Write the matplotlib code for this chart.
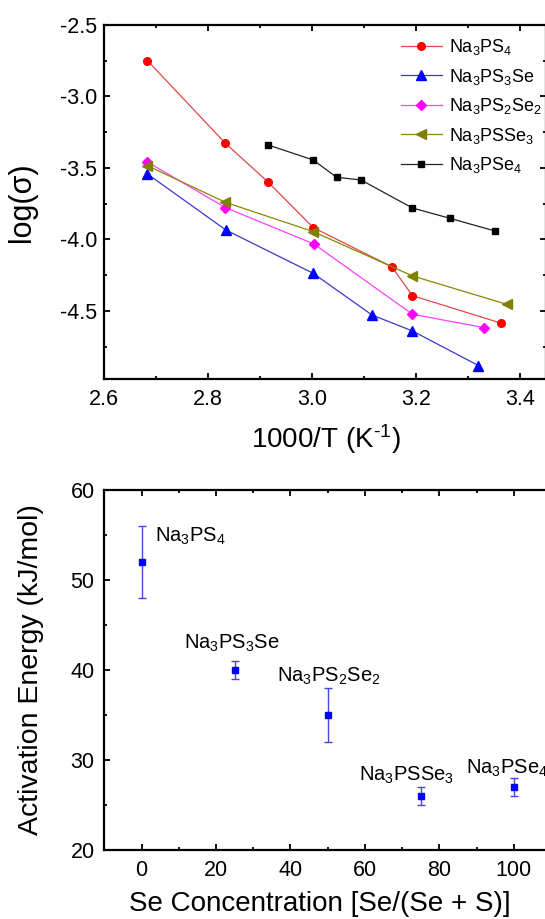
import matplotlib
matplotlib.use('Agg')
import matplotlib.pyplot as plt
from matplotlib.ticker import MultipleLocator

plt.rcParams['font.family'] = ['Liberation Sans', 'DejaVu Sans']
plt.rcParams['mathtext.fontset'] = 'custom'
plt.rcParams['mathtext.rm'] = 'Liberation Sans'
plt.rcParams['mathtext.it'] = 'Liberation Sans:italic'
plt.rcParams['mathtext.default'] = 'regular'
plt.rcParams['axes.unicode_minus'] = False

# --- conductivity data (Arrhenius plot) ---
x_ps4 = [2.683, 2.833, 2.915, 3.002, 3.153, 3.193, 3.364]
y_ps4 = [-2.749, -3.327, -3.598, -3.917, -4.19, -4.393, -4.586]

x_ps3se = [2.683, 2.834, 3.002, 3.115, 3.193, 3.320]
y_ps3se = [-3.542, -3.934, -4.237, -4.528, -4.64, -4.882]

x_ps2se2 = [2.683, 2.833, 3.003, 3.193, 3.331]
y_ps2se2 = [-3.458, -3.777, -4.031, -4.523, -4.617]

x_psse3 = [2.683, 2.833, 3.002, 3.193, 3.374]
y_psse3 = [-3.484, -3.740, -3.945, -4.255, -4.453]

x_pse4 = [2.915, 3.002, 3.047, 3.094, 3.193, 3.265, 3.352]
y_pse4 = [-3.339, -3.444, -3.565, -3.584, -3.78, -3.852, -3.941]

# --- activation energy data ---
se_conc = [0, 25, 50, 75, 100]
ea = [52, 40, 35, 26, 27]
ea_err = [4, 1, 3, 1, 1]
names = ['Na$_3$PS$_4$', 'Na$_3$PS$_3$Se', 'Na$_3$PS$_2$Se$_2$',
         'Na$_3$PSSe$_3$', 'Na$_3$PSe$_4$']
label_x = [3.7, 11.4, 36.5, 58.4, 87.1]
label_y = [54.2, 42.4, 38.7, 27.7, 28.5]

W, H = 545, 919
fig = plt.figure(figsize=(W / 100, H / 100), dpi=100)

def px_axes(l, t, r, b):
    return fig.add_axes([l / W, 1 - b / H, (r - l) / W, (b - t) / H])

def style(ax):
    for s in ax.spines.values():
        s.set_linewidth(1.6)
    ax.tick_params(which='both', direction='in', top=True, right=True, width=1.3)
    ax.tick_params(which='major', length=4)
    ax.tick_params(which='minor', length=2.5)

# top panel
ax1 = px_axes(104.3, 25, 546, 379)
style(ax1)
ax1.plot(x_ps4, y_ps4, '-o', color='#e04848', mfc='#ff0000', mec='#ff0000', ms=5.5, lw=0.9, label=names[0])
ax1.plot(x_ps3se, y_ps3se, '-^', color='#3838d0', mfc='#0000ff', mec='#0000ff', ms=6.5, lw=0.9, label=names[1])
ax1.plot(x_ps2se2, y_ps2se2, '-D', color='#ff40ff', mfc='#ff00ff', mec='#ff00ff', ms=5.5, lw=0.9, label=names[2])
ax1.plot(x_psse3, y_psse3, '-<', color='#888800', mfc='#808000', mec='#808000', ms=6.5, lw=0.9, label=names[3])
ax1.plot(x_pse4, y_pse4, '-s', color='#222222', mfc='#000000', mec='#000000', ms=5, lw=0.9, label=names[4])
ax1.set_xlim(2.6, 3.45)
ax1.set_ylim(-4.976, -2.5)
ax1.xaxis.set_major_locator(MultipleLocator(0.2))
ax1.xaxis.set_minor_locator(MultipleLocator(0.1))
ax1.yaxis.set_major_locator(MultipleLocator(0.5))
ax1.yaxis.set_minor_locator(MultipleLocator(0.25))
ax1.set_xticks([2.6, 2.8, 3.0, 3.2, 3.4])
ax1.set_yticks([-2.5, -3.0, -3.5, -4.0, -4.5])
ax1.tick_params(axis='x', labelsize=15.5, pad=7)
ax1.tick_params(axis='y', labelsize=15.5, pad=5)
ax1.set_xlabel('1000/T (K$^{\u20101}$)', fontsize=20, va='center')
ax1.xaxis.set_label_coords(0.502, -0.17)
ax1.set_ylabel('log(σ)', fontsize=22, va='center')
ax1.yaxis.set_label_coords(-0.186, 0.5)
ax1.legend(loc='upper left', bbox_to_anchor=(0.671, 0.965), frameon=False,
           fontsize=13, handlelength=2.28, handletextpad=0.37,
           labelspacing=0.52, borderpad=0, borderaxespad=0)

# bottom panel
ax2 = px_axes(104.3, 490, 551, 850)
style(ax2)
ax2.errorbar(se_conc, ea, yerr=ea_err, fmt='s', color='#0000ff', ms=5,
             ecolor='#4848d8', elinewidth=1.0, capsize=3, capthick=1.0)
for t, tx, ty in zip(names, label_x, label_y):
    ax2.text(tx, ty, t, fontsize=14.5, va='baseline', ha='left')
ax2.set_xlim(-10, 110)
ax2.set_ylim(20, 60)
ax2.xaxis.set_major_locator(MultipleLocator(20))
ax2.xaxis.set_minor_locator(MultipleLocator(10))
ax2.yaxis.set_major_locator(MultipleLocator(10))
ax2.yaxis.set_minor_locator(MultipleLocator(5))
ax2.set_xticks([0, 20, 40, 60, 80, 100])
ax2.tick_params(axis='x', labelsize=15.5, pad=7)
ax2.tick_params(axis='y', labelsize=15.5, pad=7)
ax2.set_xlabel('Se Concentration [Se/(Se + S)]', fontsize=20, va='center')
ax2.xaxis.set_label_coords(0.483, -0.15)
ax2.set_ylabel('Activation Energy (kJ/mol)', fontsize=20.5, va='center')
ax2.yaxis.set_label_coords(-0.164, 0.5)

fig.savefig('out.png', dpi=100)
